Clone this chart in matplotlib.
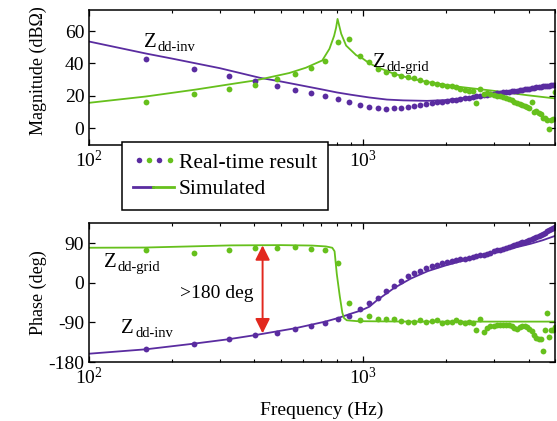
import numpy as np
import matplotlib
matplotlib.use('Agg')
import matplotlib.pyplot as plt
from matplotlib.lines import Line2D
from matplotlib.legend_handler import HandlerBase, HandlerTuple

plt.rcParams['font.family'] = ['Liberation Serif', 'DejaVu Serif']
plt.rcParams['mathtext.fontset'] = 'stix'
plt.rcParams['axes.unicode_minus'] = False

purple = '#5a2ca0'
green = '#66c01c'
red = '#e2281e'

# real-time measurement frequencies (Hz)
freq_rt = [161, 242, 323, 403, 484, 565, 645, 726, 807, 887, 968, 1048, 1129, 1210,
           1290, 1371, 1452, 1532, 1613, 1694, 1774, 1855, 1935, 2016, 2097, 2177,
           2258, 2339, 2419, 2500, 2581, 2661, 2742, 2823, 2903, 2984, 3065, 3145,
           3226, 3306, 3387, 3468, 3548, 3629, 3710, 3790, 3871, 3952, 4032, 4113,
           4194, 4274, 4355, 4435, 4516, 4597, 4677, 4758, 4839, 4919, 5000]

mag_inv_rt = [42.7, 36.3, 32.0, 29.0, 26.3, 23.8, 21.7, 19.7, 17.8, 16.0, 14.3, 13.1,
              12.3, 12.0, 12.1, 12.4, 12.9, 13.5, 14.1, 15.0, 15.4, 15.9, 16.4, 16.8,
              17.2, 17.6, 18.0, 18.4, 18.8, 19.1, 19.5, 19.8, 20.2, 20.5, 20.8, 21.2,
              21.5, 21.8, 22.1, 22.3, 22.5, 22.8, 23.0, 23.2, 23.5, 23.7, 24.0, 24.2,
              24.4, 24.7, 24.9, 25.1, 25.3, 25.5, 25.7, 25.9, 26.1, 26.3, 26.5, 26.7, 26.9]

mag_grid_rt = [15.8, 20.9, 24.4, 26.9, 30.4, 33.4, 36.9, 41.6, 53.3, 54.8, 44.5, 40.6,
               36.5, 34.7, 33.6, 32.4, 31.4, 30.8, 30.0, 28.5, 27.8, 27.2, 26.7, 26.2,
               25.7, 25.1, 24.4, 23.8, 23.2, 22.6, 15.6, 24.2, 21.3, 21.6, 20.9, 20.5,
               19.8, 19.9, 19.3, 18.8, 17.7, 17.2, 16.0, 15.4, 14.8, 14.2, 13.8, 13.1,
               12.6, 16.2, 10.0, 10.4, 9.4, 8.8, 6.0, 6.4, 5.2, -0.8, 4.9, 5.5, 22.3]

ph_inv_rt = [-150, -138, -128, -119, -113, -105, -99, -92, -83, -76, -59, -46,
             -34, -19, -7, 4, 15, 22, 27, 33, 38, 41.5, 45, 47.5,
             49.5, 51.5, 53.5, 55.5, 57, 58.5, 60.5, 62.5, 64.5, 66.5, 69, 71.5,
             74, 76, 78, 80, 82, 84, 86, 88, 90, 92, 94, 96,
             98, 100, 102.5, 105, 107.5, 110, 112, 114.5, 117, 119.5, 122, 125, 128]

ph_grid_rt = [74, 68.5, 76, 78.5, 80, 81.5, 77.7, 75.4, 44.6, -45.4, -85, -76,
              -81.5, -82, -83, -87, -88, -88.5, -85, -88, -87, -84, -92, -89,
              -89, -85, -90, -91, -89, -92, -108, -83, -111, -103, -99, -97,
              -95, -95, -96, -95, -96, -98, -103, -105, -100, -98, -98, -100,
              -104, -110, -118, -126, -128, -127, -155, -108, -68, -122, -108, -107, -100]

# simulated curves
freq_inv_mag = [100, 162, 200, 300, 421, 500, 600, 700, 801, 900, 1050, 1219, 1400,
                1707, 2000, 2259, 2673, 2989, 3500, 3955, 4500, 5000]
mag_inv_sim = [53.5, 46, 43, 37, 31, 28.8, 26.2, 24, 22, 20.6, 18.9, 17.6, 17.1,
               16.8, 17.3, 18.3, 20, 20.9, 22.5, 23.4, 25, 26.9]

freq_grid_mag = [100, 161, 245, 324, 405, 536, 617, 708, 752, 782, 795, 805, 830, 865,
                 942, 977, 1052, 1121, 1290, 1500, 1707, 2259, 2989, 3955, 5000]
mag_grid_sim = [15.6, 19.5, 23.8, 27, 29.5, 34, 37.3, 41.8, 49, 57, 62, 67.5, 58.3, 51,
                45, 43.9, 40, 37.7, 33.6, 30.5, 28.5, 25.4, 23, 20.3, 18.3]

freq_inv_ph = [100, 161, 242, 323, 405, 565, 726, 807, 900, 977, 1052, 1118, 1291,
               1490, 1720, 2000, 2292, 2650, 3054, 3500, 4070, 4500, 5000]
ph_inv_sim = [-161, -151, -138, -128, -118.5, -103, -88, -80, -70, -63, -54, -40, -12,
              10, 27, 40, 50, 60, 70, 79, 89, 97, 107]

freq_grid_ph = [100, 160, 250, 330, 500, 650, 730, 770, 785, 800, 820, 838, 850, 870,
                950, 1500, 5000]
ph_grid_sim = [80, 80.5, 83.5, 85.4, 86, 85, 83, 80, 72, 20, -30, -68, -80, -85,
               -87, -88, -88]


class DotsProxy:
    pass


class AltDotsHandler(HandlerBase):
    def create_artists(self, legend, orig_handle, xdescent, ydescent, width, height,
                       fontsize, trans):
        arts = []
        y = -ydescent + height / 2
        for i, c in enumerate([purple, green, purple, green]):
            x = -xdescent + width * (0.15 + 0.25 * i)
            ln = Line2D([x], [y], marker='o', ls='none', color=c, markersize=4,
                        mec='none', transform=trans)
            arts.append(ln)
        return arts


def zlabel(ax, x, y, sub):
    ax.text(x, y, 'Z', transform=ax.transAxes, fontsize=15, ha='left', va='baseline')
    ax.annotate(sub, xy=(x, y), xycoords='axes fraction', xytext=(10, -3),
                textcoords='offset points', fontsize=10.5, ha='left', va='baseline')


def style(ax):
    ax.set_xscale('log')
    ax.set_xlim(100, 5000)
    ax.tick_params(which='both', direction='in', top=True, right=True, labelsize=14)
    ax.tick_params(which='major', length=4.5, width=0.9)
    ax.tick_params(which='minor', length=2.5, width=0.8)
    for s in ax.spines.values():
        s.set_linewidth(1.1)


fig = plt.figure(figsize=(5.57, 4.21), dpi=100)
ax1 = fig.add_axes([0.160, 0.6556, 0.8366, 0.3206])
ax2 = fig.add_axes([0.160, 0.140, 0.8366, 0.330])

# magnitude
ax1.plot(freq_inv_mag, mag_inv_sim, color=purple, lw=1.3)
ax1.plot(freq_grid_mag, mag_grid_sim, color=green, lw=1.3)
ax1.plot(freq_rt, mag_inv_rt, 'o', color=purple, ms=4.2, mec='none')
ax1.plot(freq_rt, mag_grid_rt, 'o', color=green, ms=4.2, mec='none')
style(ax1)
ax1.set_ylim(-10.5, 73)
ax1.set_yticks([0, 20, 40, 60])
ax1.set_ylabel('Magnitude (dBΩ)', fontsize=13)
ax1.yaxis.set_label_coords(-0.09, 0.55)
zlabel(ax1, 0.118, 0.726, 'dd-inv')
zlabel(ax1, 0.609, 0.578, 'dd-grid')

# phase
ax2.plot(freq_inv_ph, ph_inv_sim, color=purple, lw=1.3)
ax2.plot(freq_grid_ph, ph_grid_sim, color=green, lw=1.3)
ax2.plot(freq_rt, ph_inv_rt, 'o', color=purple, ms=4.2, mec='none')
ax2.plot(freq_rt, ph_grid_rt, 'o', color=green, ms=4.2, mec='none')
style(ax2)
ax2.set_ylim(-180, 136)
ax2.set_yticks([-180, -90, 0, 90])
ax2.set_ylabel('Phase (deg)', fontsize=13)
ax2.yaxis.set_label_coords(-0.09, 0.5)
ax2.set_xlabel('Frequency (Hz)', fontsize=14, labelpad=10)
zlabel(ax2, 0.032, 0.683, 'dd-grid')
zlabel(ax2, 0.0687, 0.209, 'dd-inv')

ax2.annotate('', xy=(429, 85.4), xytext=(429, -114.7),
             arrowprops=dict(arrowstyle='<|-|>', color=red, lw=1.4,
                             mutation_scale=22, shrinkA=0, shrinkB=0))
ax2.text(398, -25, '>180 deg', fontsize=14, ha='right', va='center')

# legend
sim_h = (Line2D([], [], color=purple, lw=2), Line2D([], [], color=green, lw=2))
leg = fig.legend([DotsProxy(), sim_h], ['Real-time result', 'Simulated'],
                 handler_map={DotsProxy: AltDotsHandler(),
                              tuple: HandlerTuple(ndivide=2, pad=0)},
                 loc='upper left', bbox_to_anchor=(0.219, 0.663), borderaxespad=0,
                 fontsize=15.5, fancybox=False, edgecolor='black', framealpha=1,
                 handlelength=1.9, handletextpad=0.25, borderpad=0.5,
                 labelspacing=0.3)
leg.get_frame().set_linewidth(1.1)

fig.savefig('out.png', dpi=100)
